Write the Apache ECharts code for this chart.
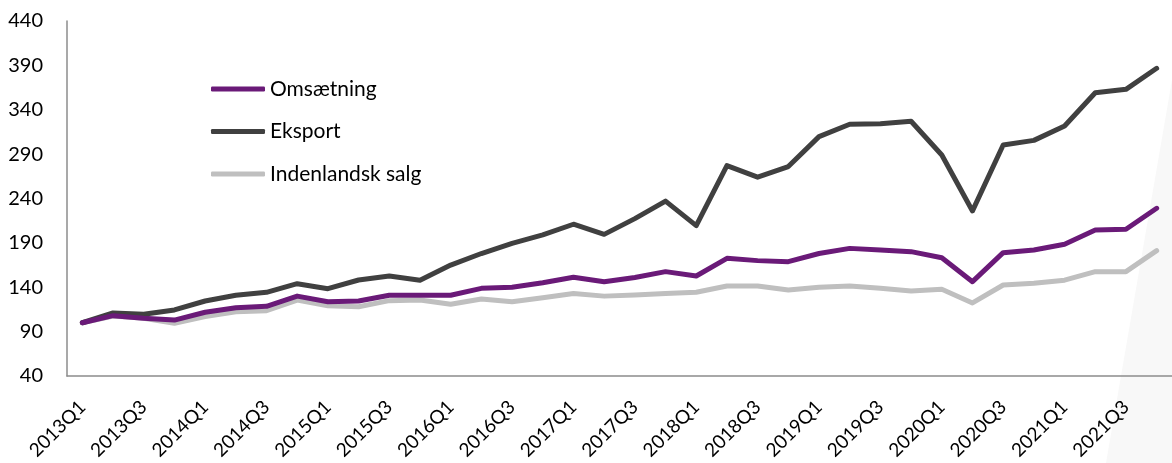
<!DOCTYPE html>
<html>
<head>
<meta charset="utf-8">
<script src="https://cdn.jsdelivr.net/npm/echarts@6/dist/echarts.min.js"></script>
<style>
html,body{margin:0;padding:0;background:#fff;}
#c{width:1172px;height:463px;}
</style>
</head>
<body>
<div id="c"></div>
<script>
const categories = ["2013Q1","2013Q2","2013Q3","2013Q4","2014Q1","2014Q2","2014Q3","2014Q4",
"2015Q1","2015Q2","2015Q3","2015Q4","2016Q1","2016Q2","2016Q3","2016Q4",
"2017Q1","2017Q2","2017Q3","2017Q4","2018Q1","2018Q2","2018Q3","2018Q4",
"2019Q1","2019Q2","2019Q3","2019Q4","2020Q1","2020Q2","2020Q3","2020Q4",
"2021Q1","2021Q2","2021Q3","2021Q4"];
const omsaetning = [100,108,105,103,111.8,117,118.5,130,123.7,124.5,131,131,131,138.8,140,145,151.2,146.3,151,157.6,152.7,172.6,170,168.8,178,183.8,182,180.1,173.3,146.3,179,182,188.4,204.5,205.3,229];
const eksport = [100,111,109.5,114.4,124.5,131,134.3,144,138.4,148.2,152.7,148,165,178,189.5,199,211,199.6,217.3,237,209.4,277,264,276,309.7,323.6,324.3,327,289,226,300.3,305.5,321.7,359.2,363,386.7];
const indenlandsk = [100,107.6,105,99.4,107,112.5,113.6,125.6,119.2,118,124.9,125.6,120.8,126.8,123.7,128.2,133,130,131.3,133,134.3,141.4,141.4,136.9,140,141.4,138.8,135.8,137.7,122.3,142.5,144.4,148,157.6,157.6,181.2];
const yTicks = {min:40, max:440, interval:50};

const chart = echarts.init(document.getElementById('c'), null, {renderer:'canvas'});
const font = 'Lato, "Open Sans", sans-serif';
chart.setOption({
  animation:false,
  backgroundColor:'#fff',
  graphic:[{type:'polygon', z:-10, silent:true,
    shape:{points:[[1106,463],[1172,80],[1172,463]]},
    style:{fill:'#f8f8f8'}}],
  legend:{
    orient:'vertical', left:206, top:73,
    itemWidth:54, itemHeight:5, itemGap:20.5,
    icon:'roundRect',
    textStyle:{fontFamily:font, fontSize:21, color:'#000', lineHeight:22},
    data:['Omsætning','Eksport','Indenlandsk salg']
  },
  grid:{left:67, top:21, bottom:87, width:1113, containLabel:false},
  xAxis:{
    type:'category', data:categories, boundaryGap:true,
    axisLine:{lineStyle:{color:'#8c8c8c', width:1.5}},
    axisTick:{show:false},
    axisLabel:{interval:1, rotate:45, margin:28, fontFamily:font, fontSize:19, color:'#000'}
  },
  yAxis:{
    type:'value', min:yTicks.min, max:yTicks.max, interval:yTicks.interval,
    axisLine:{show:true, lineStyle:{color:'#8c8c8c', width:1.5}},
    axisTick:{show:false},
    splitLine:{show:false},
    axisLabel:{margin:24, fontFamily:font, fontSize:20, color:'#000'}
  },
  series:[
    {name:'Omsætning', type:'line', data:omsaetning, symbol:'none', z:4,
     lineStyle:{color:'#6a1a78', width:5, cap:'round', join:'round'}, itemStyle:{color:'#6a1a78'}},
    {name:'Eksport', type:'line', data:eksport, symbol:'none', z:3,
     lineStyle:{color:'#404040', width:5, cap:'round', join:'round'}, itemStyle:{color:'#404040'}},
    {name:'Indenlandsk salg', type:'line', data:indenlandsk, symbol:'none', z:2,
     lineStyle:{color:'#bfbfbf', width:5, cap:'round', join:'round'}, itemStyle:{color:'#bfbfbf'}}
  ]
});
</script>
</body>
</html>
